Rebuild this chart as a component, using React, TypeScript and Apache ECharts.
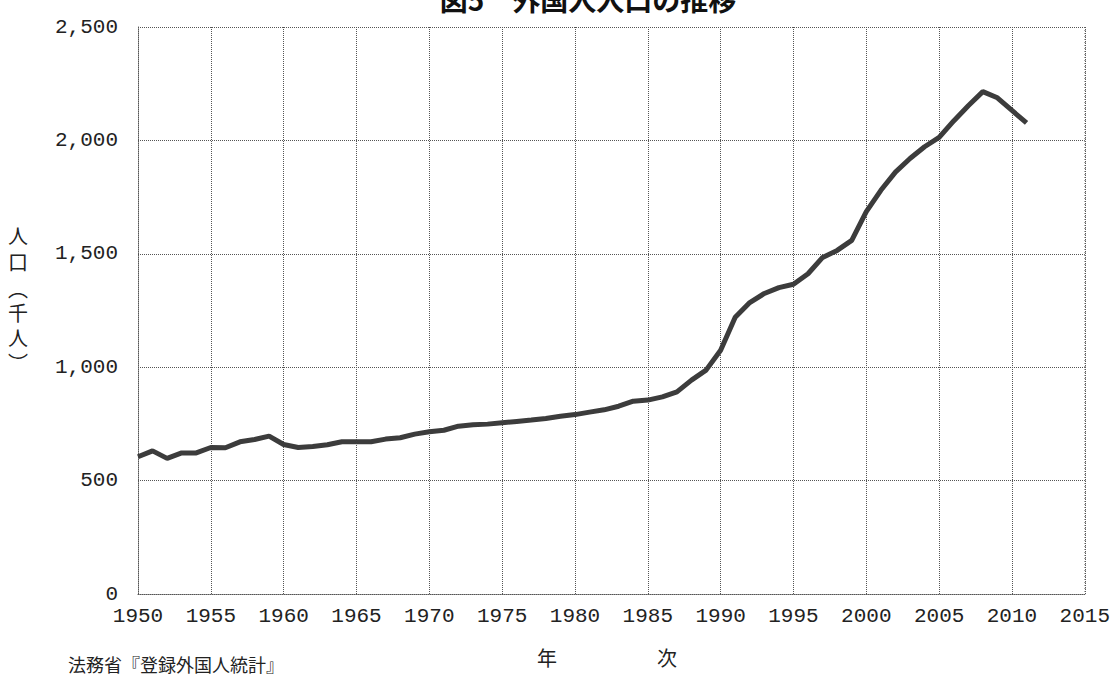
import React, { useEffect, useRef } from "react";
import * as echarts from "echarts";

const years = [
  1950, 1951, 1952, 1953, 1954, 1955, 1956, 1957, 1958, 1959,
  1960, 1961, 1962, 1963, 1964, 1965, 1966, 1967, 1968, 1969,
  1970, 1971, 1972, 1973, 1974, 1975, 1976, 1977, 1978, 1979,
  1980, 1981, 1982, 1983, 1984, 1985, 1986, 1987, 1988, 1989,
  1990, 1991, 1992, 1993, 1994, 1995, 1996, 1997, 1998, 1999,
  2000, 2001, 2002, 2003, 2004, 2005, 2006, 2007, 2008, 2009,
  2010, 2011,
];
const population = [
  605, 631, 598, 622, 622, 646, 645, 671, 681, 696,
  659, 646, 650, 658, 671, 671, 671, 683, 689, 705,
  715, 722, 740, 746, 749, 755, 761, 767, 774, 784,
  791, 802, 812, 828, 850, 855, 869, 891, 943, 987,
  1075, 1220, 1285, 1325, 1351, 1366, 1412, 1484, 1515, 1559,
  1686, 1780, 1860, 1920, 1972, 2013, 2086, 2153, 2215, 2188,
  2132, 2077,
];

const titleText = "図5　外国人人口の推移";
const yAxisName = ["人", "口", "︵", "千", "人", "︶"];
const xAxisName = "年　　　　　次";
const sourceText = "法務省『登録外国人統計』";

const numFont = "'Liberation Mono', 'DejaVu Sans Mono', monospace";
const jpFont = "'Noto Sans CJK JP', sans-serif";

export default function App() {
  const ref = useRef<HTMLDivElement>(null);
  useEffect(() => {
    if (!ref.current) return;
    const chart = echarts.init(ref.current, undefined, { renderer: "svg" });
    const gridLine = { show: true, lineStyle: { color: "#555", type: "dotted" as const, width: 1 } };
    const nameCenters = [235, 261, 288, 312, 337, 362];
    const yNameEls = yAxisName.map((ch, i) => ({
      type: "text",
      x: 18,
      y: nameCenters[i],
      style: {
        text: ch,
        fontFamily: jpFont,
        fontSize: 20,
        fill: "#222",
        textAlign: "center",
        textVerticalAlign: "middle",
      },
    }));
    chart.setOption({
      animation: false,
      backgroundColor: "#fff",
      grid: { left: 138, right: 28, top: 27, bottom: 85 },
      xAxis: {
        type: "value",
        min: 1950,
        max: 2015,
        interval: 5,
        axisLine: { show: true, lineStyle: { color: "#555", type: "dotted" } },
        axisTick: { show: false },
        splitLine: gridLine,
        axisLabel: {
          margin: 12,
          color: "#222",
          fontFamily: numFont,
          fontSize: 21,
          formatter: (v: number) => String(v),
        },
      },
      yAxis: {
        type: "value",
        min: 0,
        max: 2500,
        interval: 500,
        axisLine: { show: true, lineStyle: { color: "#555", type: "dotted" } },
        axisTick: { show: false },
        splitLine: gridLine,
        axisLabel: {
          margin: 20,
          color: "#222",
          fontFamily: numFont,
          fontSize: 21,
          formatter: (v: number) => v.toLocaleString("en-US"),
        },
      },
      graphic: [
        {
          type: "line",
          shape: { x1: 1085, y1: 27, x2: 1085, y2: 594 },
          style: { stroke: "#555", lineWidth: 1, lineDash: [1, 2] },
        },
        {
          type: "text",
          x: 588,
          y: 13,
          style: {
            text: titleText,
            fontFamily: jpFont,
            fontSize: 28,
            fontWeight: "bold",
            fill: "#111",
            textAlign: "center",
            textVerticalAlign: "bottom",
          },
        },
        ...yNameEls,
        {
          type: "text",
          x: 607,
          y: 657,
          style: {
            text: xAxisName,
            fontFamily: jpFont,
            fontSize: 20,
            fill: "#222",
            textAlign: "center",
            textVerticalAlign: "middle",
          },
        },
        {
          type: "text",
          x: 68,
          y: 664,
          style: {
            text: sourceText,
            fontFamily: jpFont,
            fontSize: 18,
            fill: "#222",
            textAlign: "left",
            textVerticalAlign: "middle",
          },
        },
      ],
      series: [
        {
          type: "line",
          data: years.map((y, i) => [y, population[i]]),
          showSymbol: false,
          symbol: "none",
          lineStyle: { color: "#3c3c3c", width: 5 },
        },
      ],
    });
    return () => chart.dispose();
  }, []);
  return (
    <div
      ref={ref}
      style={{ position: "fixed", left: 0, top: 0, width: 1113, height: 679 }}
    />
  );
}
